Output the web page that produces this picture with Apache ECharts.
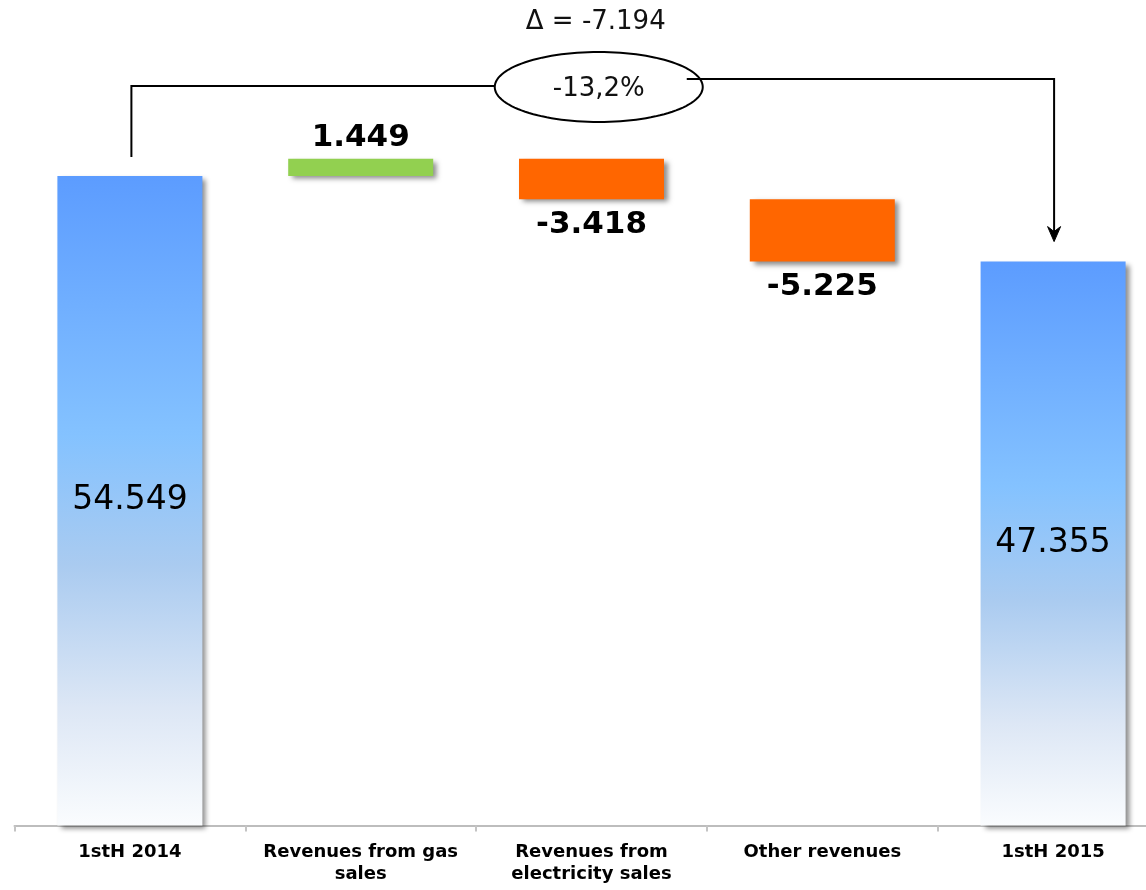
<!DOCTYPE html>
<html>
<head>
<meta charset="utf-8">
<script src="https://cdn.jsdelivr.net/npm/echarts@6/dist/echarts.min.js"></script>
<style>
html,body{margin:0;padding:0;background:#fff;}
#chart{width:1146px;height:890px;}
</style>
</head>
<body>
<div id="chart"></div>
<script>
// ---- data ----
const categories = ['1stH 2014', 'Revenues from gas\nsales', 'Revenues from\nelectricity sales', 'Other revenues', '1stH 2015'];
const values = [54549, 1449, -3418, -5225, 47355];
const kinds = ['total', 'delta', 'delta', 'delta', 'total'];

// ---- helpers ----
function fmt(n) {
  const s = Math.abs(n).toString().replace(/\B(?=(\d{3})+(?!\d))/g, '.');
  return (n < 0 ? '-' : '') + s;
}
const FONT = 'DejaVu Sans';
const blueGrad = new echarts.graphic.LinearGradient(0, 0, 0, 1, [
  { offset: 0, color: '#5c9cff' },
  { offset: 0.4, color: '#84c2ff' },
  { offset: 0.6, color: '#aacbf0' },
  { offset: 0.82, color: '#dde7f5' },
  { offset: 1, color: '#fafcfe' }
]);

const baseData = [];
const barData = [];
let running = 0;
values.forEach((v, i) => {
  let base, h, color, label;
  if (kinds[i] === 'total') {
    base = 0; h = v; running = v; color = blueGrad;
    label = { show: true, position: 'inside', fontSize: 33, fontFamily: FONT, color: '#000', formatter: fmt(v) };
  } else if (v >= 0) {
    base = running; h = v; running += v; color = '#92d050';
    label = { show: true, position: 'top', distance: 5, fontSize: 31, fontWeight: 'bold', fontFamily: FONT, color: '#000', formatter: fmt(v) };
  } else {
    running += v; base = running; h = -v; color = '#ff6600';
    label = { show: true, position: 'bottom', distance: 10, fontSize: 31, fontWeight: 'bold', fontFamily: FONT, color: '#000', formatter: fmt(v) };
  }
  baseData.push(base);
  barData.push({ value: h, itemStyle: { color: color }, label: label });
});

const chart = echarts.init(document.getElementById('chart'), null, { renderer: 'canvas' });
chart.setOption({
  animation: false,
  backgroundColor: '#ffffff',
  grid: { left: 14.5, right: -22.5, top: 111, bottom: 64.5, containLabel: false, outerBoundsMode: 'none' },
  xAxis: {
    type: 'category',
    data: categories,
    axisLine: { lineStyle: { color: '#bdbdbd', width: 2 } },
    axisTick: { show: true, length: 6, lineStyle: { color: '#c4c4c4', width: 2 } },
    axisLabel: { margin: 16, fontSize: 18, fontWeight: 'bold', fontFamily: FONT, color: '#000', lineHeight: 22, interval: 0 },
    splitLine: { show: false }
  },
  yAxis: { type: 'value', min: 0, max: 60000, show: false, splitLine: { show: false } },
  series: [
    { type: 'bar', stack: 'w', data: baseData, barWidth: 145, itemStyle: { color: 'rgba(0,0,0,0)' }, silent: true },
    {
      type: 'bar', stack: 'w', data: barData, barWidth: 145,
      itemStyle: { shadowColor: 'rgba(0,0,0,0.45)', shadowBlur: 5, shadowOffsetX: 4, shadowOffsetY: 3 }
    }
  ]
});

// ---- annotation (bracket, ellipse, arrow) derived from the axis scales ----
const p0 = chart.convertToPixel({ gridIndex: 0 }, [0, values[0]]);
const p4 = chart.convertToPixel({ gridIndex: 0 }, [4, values[4]]);
const x0 = p0[0] + 1.5, x4 = p4[0] + 1;
const yL = 86, yR = 79;
const cx = (x0 + x4) / 2 + 6, cy = 87, rx = 104, ry = 35;
const ellPts = [];
for (let k = 0; k < 120; k++) {
  const a = (k / 120) * Math.PI * 2;
  ellPts.push([cx + rx * Math.cos(a), cy + ry * Math.sin(a)]);
}
const tipY = p4[1] - 20;
const delta = values[4] - values[0];
const pct = (delta / values[0] * 100).toFixed(1).replace('.', ',') + '%';
const lineStyle = { stroke: '#000', lineWidth: 2, fill: null };
chart.setOption({
  graphic: [
    { type: 'polyline', shape: { points: [[x0, p0[1] - 19], [x0, yL], [cx - rx, yL]] }, style: lineStyle, z: 10 },
    { type: 'polygon', shape: { points: ellPts }, style: { stroke: '#000', lineWidth: 2, fill: '#fff' }, z: 10 },
    { type: 'polyline', shape: { points: [[cx + rx - 16, yR], [x4, yR], [x4, tipY - 4]] }, style: lineStyle, z: 10 },
    { type: 'polygon', shape: { points: [[x4 - 6.5, tipY - 15], [x4, tipY], [x4 + 6.5, tipY - 15], [x4, tipY - 10]] }, style: { fill: '#000', stroke: '#000', lineWidth: 1 }, z: 10 },
    { type: 'text', x: cx, y: 89, style: { text: pct, fontSize: 26, fontFamily: FONT, fill: '#111', align: 'center', verticalAlign: 'middle' }, z: 11 },
    { type: 'text', x: cx - 3, y: 22, style: { text: '\u0394 = ' + fmt(delta), fontSize: 26, fontFamily: FONT, fill: '#111', align: 'center', verticalAlign: 'middle' }, z: 11 }
  ]
});
</script>
</body>
</html>
